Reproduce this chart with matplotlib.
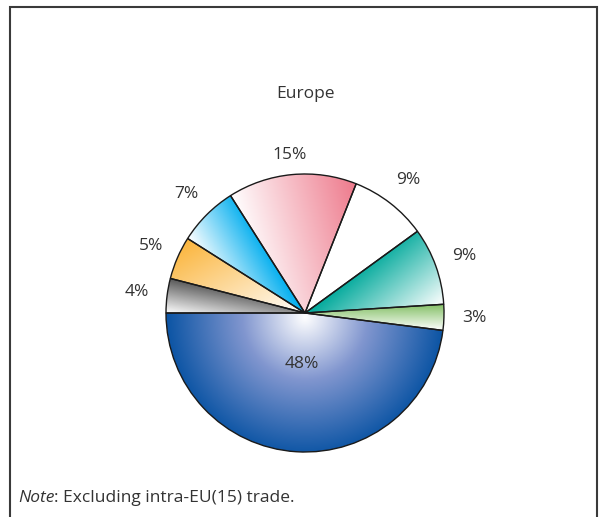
import numpy as np
import matplotlib.pyplot as plt
from matplotlib.colors import to_rgb

plt.rcParams['font.family'] = ['Open Sans', 'DejaVu Sans']

# slices counter-clockwise from the left horizontal
shares = [48, 3, 9, 9, 15, 7, 5, 4]
labels = ['48%', '3%', '9%', '9%', '15%', '7%', '5%', '4%']
colors = ['#0b54a4', '#84c066', '#00a99b', '#ffffff', '#ee7a8c', '#00aeef', '#fbb53c', '#585858']
# direction (deg) towards the full colour end of each gradient, None = radial
grad_dir = [None, 90, 130, 0, 15, 30, 120, 80]
label_dist = [0.37, 1.22, 1.22, 1.21, 1.14, 1.21, 1.21, 1.22]

title = 'Europe'
note_it = 'Note'
note_rest = ': Excluding intra-EU(15) trade.'

W, H = 606, 517
fig = plt.figure(figsize=(W / 100, H / 100), dpi=100)
ax = fig.add_axes([0, 0, 1, 1])

cx, cy, R = 305, H - 313, 139
wedges, _ = ax.pie(shares, startangle=180, counterclock=True, center=(cx, cy),
                   radius=R, wedgeprops=dict(facecolor='none', edgecolor='#1a1a1a',
                                             linewidth=1.0))

n = 500
xs = np.linspace(cx - R, cx + R, n)
ys = np.linspace(cy - R, cy + R, n)
X, Y = np.meshgrid(xs, ys)
white = np.array([1.0, 1.0, 1.0])
lavender = np.array(to_rgb('#8196cf'))

for w, col, d in zip(wedges, colors, grad_dir):
    c = np.array(to_rgb(col))
    if d is None:
        # radial glow from the pie centre: white -> lavender -> dark blue
        dist = np.clip(np.hypot(X - cx, Y - (cy - 0.03 * R)) / R, 0, 1)
        t1 = np.clip(dist / 0.45, 0, 1)[..., None]
        t2 = np.clip((dist - 0.45) / 0.55, 0, 1)[..., None]
        img = np.where(dist[..., None] < 0.45,
                       white + t1 * (lavender - white),
                       lavender + t2 * (c - lavender))
    else:
        a = np.radians(d)
        proj = (X - cx) * np.cos(a) + (Y - cy) * np.sin(a)
        v = w.get_path().vertices
        pv = (v[:, 0] - cx) * np.cos(a) + (v[:, 1] - cy) * np.sin(a)
        t = np.clip((proj - pv.min()) / (pv.max() - pv.min()), 0, 1)
        img = white + t[..., None] * (c - white)
    im = ax.imshow(img, origin='lower', extent=(cx - R, cx + R, cy - R, cy + R),
                   interpolation='bilinear', zorder=0.5)
    im.set_clip_path(w)

txt = dict(color='#333333', fontsize=12.5)

for w, lab, ld in zip(wedges, labels, label_dist):
    mid = np.radians((w.theta1 + w.theta2) / 2)
    ax.text(cx + ld * R * np.cos(mid), cy + ld * R * np.sin(mid), lab,
            ha='center', va='center', **txt)

ax.text(cx, H - 94, title, ha='center', va='center', **txt)

t1 = ax.text(18, H - 506, note_it, style='italic', ha='left', va='bottom', **txt)
ax.annotate(note_rest, xy=(1, 0), xycoords=t1, ha='left', va='bottom', **txt)

# open frame round the chart
ax.plot([10, 10, 597, 597], [0, H - 7, H - 7, 0], color='#3a3a3a', lw=1.5,
        solid_joinstyle='miter')

ax.set_xlim(0, W)
ax.set_ylim(0, H)
ax.axis('off')

fig.savefig('out.png', dpi=100)
